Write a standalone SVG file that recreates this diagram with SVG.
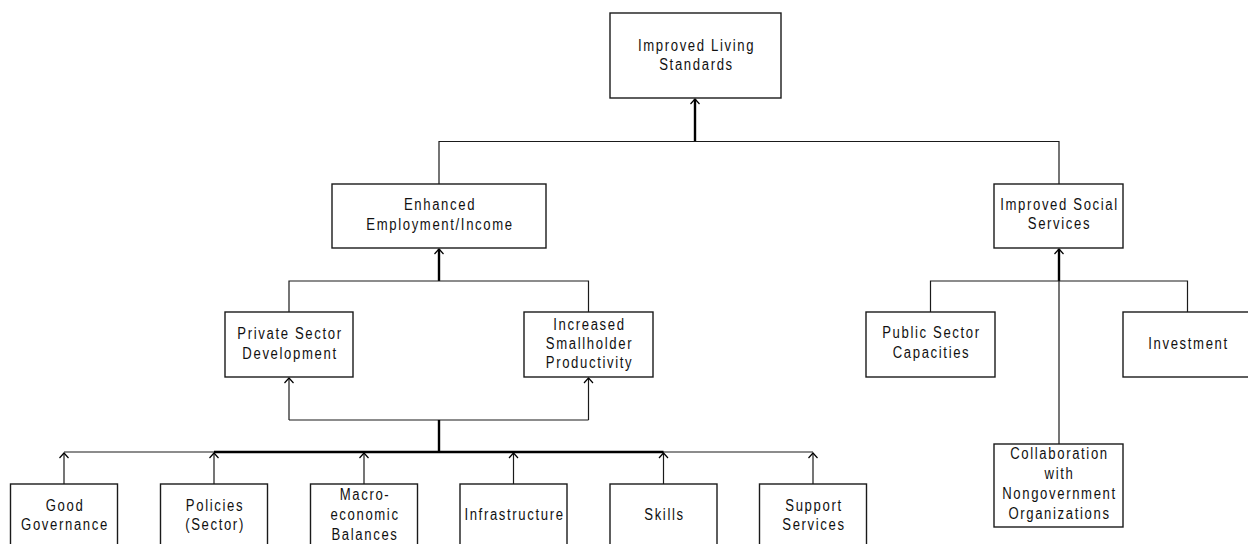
<svg xmlns="http://www.w3.org/2000/svg" width="1248" height="544" viewBox="0 0 1248 544">
<style>
.box{fill:#fff;stroke:#1a1a1a;stroke-width:1.4}
.t{font-family:"Liberation Sans",Arial,sans-serif;font-size:16px;letter-spacing:2px;fill:#111;text-anchor:middle}
.ln{fill:none;stroke:#1a1a1a;stroke-width:1.2}
.th{fill:none;stroke:#000;stroke-width:2.4}
</style>
<defs>
<marker id="arr" markerUnits="userSpaceOnUse" markerWidth="12" markerHeight="12" viewBox="-8 -6 10 12" refX="0" refY="0" orient="auto">
<path d="M-5,-4.5 L0,0 L-5,4.5" fill="none" stroke="#000" stroke-width="1.2"/>
</marker>
</defs>
<rect width="1248" height="544" fill="#fff"/>
<g id="connectors">
<path class="th" d="M695,141.5 V99" marker-end="url(#arr)"/>
<path class="ln" d="M439,184 V141.5 H1059 V184"/>
<path class="th" d="M439,281 V249" marker-end="url(#arr)"/>
<path class="ln" d="M289,312 V281 H588.5 V312"/>
<path class="ln" d="M289,420 V378" marker-end="url(#arr)"/>
<path class="ln" d="M588.5,420 V378" marker-end="url(#arr)"/>
<path class="ln" d="M289,420 H588.5"/>
<path class="th" d="M439,452 V420"/>
<path class="ln" d="M64,452 H813"/>
<path class="th" d="M214,452 H663.5"/>
<path class="ln" d="M64,484 V453" marker-end="url(#arr)"/>
<path class="ln" d="M214,484 V453" marker-end="url(#arr)"/>
<path class="ln" d="M364,484 V453" marker-end="url(#arr)"/>
<path class="ln" d="M513.5,484 V453" marker-end="url(#arr)"/>
<path class="ln" d="M663.5,484 V453" marker-end="url(#arr)"/>
<path class="ln" d="M813,484 V453" marker-end="url(#arr)"/>
<path class="th" d="M1059,281 V249" marker-end="url(#arr)"/>
<path class="ln" d="M1059,444 V281"/>
<path class="ln" d="M930.5,312 V281 H1187.5 V312"/>
</g>
<g id="improved-living-standards">
<rect class="box" x="610" y="13" width="171" height="85"/>
<text class="t" transform="translate(696.5 51) scale(.82 1)">Improved Living</text>
<text class="t" transform="translate(696.5 70) scale(.82 1)">Standards</text>
</g>
<g id="enhanced-employment">
<rect class="box" x="332" y="184" width="214" height="64"/>
<text class="t" transform="translate(440 210) scale(.82 1)">Enhanced</text>
<text class="t" transform="translate(440 230) scale(.82 1)">Employment/Income</text>
</g>
<g id="improved-social-services">
<rect class="box" x="994" y="184" width="129" height="64"/>
<text class="t" transform="translate(1059.5 210) scale(.82 1)">Improved Social</text>
<text class="t" transform="translate(1059.5 229) scale(.82 1)">Services</text>
</g>
<g id="private-sector">
<rect class="box" x="225" y="312" width="128" height="65"/>
<text class="t" transform="translate(290 339) scale(.82 1)">Private Sector</text>
<text class="t" transform="translate(290 359) scale(.82 1)">Development</text>
</g>
<g id="smallholder">
<rect class="box" x="524" y="312" width="129" height="65"/>
<text class="t" transform="translate(589.5 330) scale(.82 1)">Increased</text>
<text class="t" transform="translate(589.5 349) scale(.82 1)">Smallholder</text>
<text class="t" transform="translate(589.5 368) scale(.82 1)">Productivity</text>
</g>
<g id="public-sector">
<rect class="box" x="866" y="312" width="129" height="65"/>
<text class="t" transform="translate(931.5 338) scale(.82 1)">Public Sector</text>
<text class="t" transform="translate(931.5 358) scale(.82 1)">Capacities</text>
</g>
<g id="investment">
<rect class="box" x="1123" y="312" width="129" height="65"/>
<text class="t" transform="translate(1188.5 349) scale(.82 1)">Investment</text>
</g>
<g id="collaboration">
<rect class="box" x="994" y="444" width="129" height="83"/>
<text class="t" transform="translate(1059.5 459) scale(.82 1)">Collaboration</text>
<text class="t" transform="translate(1059.5 479) scale(.82 1)">with</text>
<text class="t" transform="translate(1059.5 499) scale(.82 1)">Nongovernment</text>
<text class="t" transform="translate(1059.5 519) scale(.82 1)">Organizations</text>
</g>
<g id="good-governance">
<rect class="box" x="10.5" y="484" width="107" height="80"/>
<text class="t" transform="translate(65 511) scale(.82 1)">Good</text>
<text class="t" transform="translate(65 530) scale(.82 1)">Governance</text>
</g>
<g id="policies">
<rect class="box" x="160.5" y="484" width="107" height="80"/>
<text class="t" transform="translate(215 511) scale(.82 1)">Policies</text>
<text class="t" transform="translate(215 530) scale(.82 1)">(Sector)</text>
</g>
<g id="macroeconomic">
<rect class="box" x="310.5" y="484" width="107" height="80"/>
<text class="t" transform="translate(365 500) scale(.82 1)">Macro-</text>
<text class="t" transform="translate(365 520) scale(.82 1)">economic</text>
<text class="t" transform="translate(365 540) scale(.82 1)">Balances</text>
</g>
<g id="infrastructure">
<rect class="box" x="460" y="484" width="107" height="80"/>
<text class="t" transform="translate(514.5 520) scale(.82 1)">Infrastructure</text>
</g>
<g id="skills">
<rect class="box" x="610" y="484" width="107" height="80"/>
<text class="t" transform="translate(664.5 520) scale(.82 1)">Skills</text>
</g>
<g id="support-services">
<rect class="box" x="759.5" y="484" width="107" height="80"/>
<text class="t" transform="translate(814 511) scale(.82 1)">Support</text>
<text class="t" transform="translate(814 530) scale(.82 1)">Services</text>
</g>
</svg>
